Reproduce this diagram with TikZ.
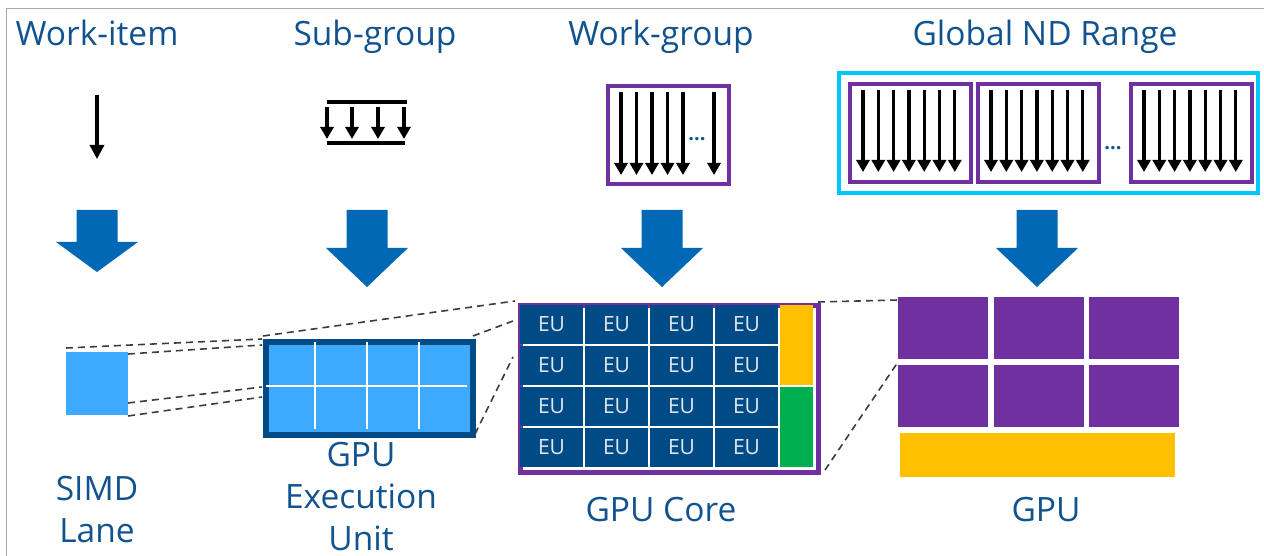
\documentclass[tikz,border=0pt]{standalone}
\usepackage{fontspec}
\setmainfont{Open Sans}
\usetikzlibrary{arrows.meta,positioning}
\definecolor{TitleBlue}{HTML}{11538F}
\definecolor{ArrowBlue}{HTML}{0068B5}
\definecolor{LaneBlue}{HTML}{3DAAFF}
\definecolor{EUBlue}{HTML}{004A86}
\definecolor{CoreBlue}{HTML}{004A86}
\definecolor{CellText}{HTML}{E4E8EE}
\definecolor{Violet}{HTML}{7030A0}
\definecolor{Cyan}{HTML}{00C7FD}
\definecolor{Gold}{HTML}{FFC000}
\definecolor{Leaf}{HTML}{00B050}
\definecolor{DashGray}{HTML}{3C3C3C}
\definecolor{Frame}{HTML}{A8A8A8}
\tikzset{
  heading/.style={text=TitleBlue, font=\fontsize{33.5}{42}\selectfont,
    inner sep=0pt, anchor=base, align=center},
  lane/.style={-{Triangle[length=12pt,width=13pt]}, line width=3.3pt},
  bar/.style={line width=4pt},
  groupbox/.style={draw=Violet, line width=4pt, minimum width=121pt,
    minimum height=98pt, inner sep=0pt, anchor=north west},
  zoomline/.style={draw=DashGray, line width=1.6pt, dash pattern=on 7pt off 5pt},
  eucell/.style={fill=CoreBlue, text=CellText, minimum width=63pt,
    minimum height=39pt, inner sep=0pt, font=\fontsize{21}{21}\selectfont},
  tile/.style={fill=Violet, minimum width=90pt, minimum height=62pt, inner sep=0pt},
  moredots/.style={text=TitleBlue, font=\fontsize{20}{20}\selectfont\bfseries,
    inner sep=0pt, anchor=base}
}
% block arrow: x, top, neck, tip
\newcommand\BlockArrow[4]{%
  \fill[ArrowBlue] (#1-20.5,#2) -- (#1+20.5,#2) -- (#1+20.5,#3) -- (#1+41,#3)
    -- (#1,#4) -- (#1-41,#3) -- (#1-20.5,#3) -- cycle;}

\begin{document}
\begin{tikzpicture}[x=1pt,y=-1pt]
  \useasboundingbox (0,0) rectangle (1264,556);
  \draw[Frame, line width=1.5pt] (6.5,556) -- (6.5,8.5) -- (1264,8.5);

  % headings
  \node[heading] (t-item) at (97,46) {Work-item};
  \node[heading] (t-sub) at (375,46) {Sub-group};
  \node[heading] (t-wg) at (661,46) {Work-group};
  \node[heading] (t-nd) at (1045,46) {Global ND Range};

  % work-item
  \coordinate (wi-top) at (97,95);
  \coordinate (wi-end) at (97,159);
  \draw[lane, -{Triangle[length=14pt,width=14pt]}] (wi-top) -- (wi-end);

  % sub-group
  \coordinate (sg-a) at (327,102);
  \coordinate (sg-b) at (407,102);
  \coordinate (sg-c) at (327,143);
  \coordinate (sg-d) at (405,143);
  \draw[bar] (sg-a) -- (sg-b);
  \draw[bar] (sg-c) -- (sg-d);
  \foreach \x in {327,352,378,404}
    \draw[lane] (\x,107) -- (\x,139);

  % work-group
  \node[groupbox] (wg) at (606,84) {};
  \foreach \i in {0,...,4}
    \draw[lane] (621+15.5*\i,92) -- (621+15.5*\i,175);
  \draw[lane] (714,92) -- (714,175);
  \node[moredots] (wg-dots) at (697,141) {...};

  % global ND range
  \node[draw=Cyan, line width=4pt, minimum width=419pt, minimum height=120pt,
    inner sep=0pt, anchor=north west] (nd) at (837,71) {};
  \foreach \bx [count=\k] in {848,976,1129} {
    \node[groupbox] (wg\k) at (\bx,82) {};
    \foreach \i in {0,...,6}
      \draw[lane] (\bx+15+15.3*\i,90) -- (\bx+15+15.3*\i,172);
  }
  \node[moredots] (nd-dots) at (1113,150) {...};

  % big arrows
  \BlockArrow{97}{210}{242}{272}
  \BlockArrow{367}{210}{248}{287}
  \BlockArrow{662}{210}{248}{287}
  \BlockArrow{1037}{210}{248}{287}

  % zoom lines
  \coordinate (s1) at (66,348);
  \coordinate (s2) at (128,354);
  \coordinate (s3) at (128,403);
  \coordinate (s4) at (128,416);
  \coordinate (e1) at (262,339);
  \coordinate (e2) at (262,345);
  \coordinate (e3) at (262,387);
  \coordinate (e4) at (262,397);
  \coordinate (c1) at (515,301);
  \coordinate (c2) at (513,321);
  \coordinate (c3) at (513,357);
  \coordinate (k1) at (818,302);
  \coordinate (k2) at (825,470);
  \coordinate (g1) at (898,300);
  \coordinate (g2) at (898,362);
  \draw[zoomline] (s1) -- (e1);
  \draw[zoomline] (s2) -- (e2);
  \draw[zoomline] (s3) -- (e3);
  \draw[zoomline] (s4) -- (e4);
  \draw[zoomline] (263,336) -- (c1);
  \draw[zoomline] (473,336) -- (c2);
  \draw[zoomline] (475,434) -- (c3);
  \draw[zoomline] (k1) -- (g1);
  \draw[zoomline] (k2) -- (g2);

  % SIMD lane and execution unit
  \node[fill=LaneBlue, minimum width=62pt, minimum height=63pt, inner sep=0pt,
    anchor=north west] (simd) at (66,352) {};
  \node[draw=EUBlue, fill=LaneBlue, line width=6pt, minimum width=207pt,
    minimum height=93pt, inner sep=0pt, anchor=north west] (eu) at (263,339) {};
  \foreach \x in {315,367,419}
    \draw[white, line width=2pt] (\x,342) -- (\x,429);
  \draw[white, line width=2pt] (266,386) -- (467,386);

  % GPU core
  \node[draw=Violet, fill=white, line width=5pt, minimum width=298pt,
    minimum height=167pt, inner sep=0pt, anchor=north west] (core) at (517.5,302.5) {};
  \foreach \r in {0,...,3}
    \foreach \c in {0,...,3}
      \node[eucell] (eu-\r-\c) at (551.5+65*\c,324.5+41*\r) {EU};
  \fill[Gold] (780,305) rectangle (813,385);
  \fill[Leaf] (780,387) rectangle (813,467);

  % GPU
  \foreach \x [count=\c] in {943,1039,1133.5}
    \foreach \y [count=\r] in {328,395.5}
      \node[tile] (gpu-\r-\c) at (\x,\y) {};
  \node[fill=Gold, minimum width=275pt, minimum height=44pt, inner sep=0pt] (l3) at (1037.5,455) {};

  % labels
  \node[heading] (l-simd) at (97,542) {SIMD\\Lane};
  \node[heading] (l-eu) at (361,550) {GPU\\Execution\\Unit};
  \node[heading] (l-core) at (661,521) {GPU Core};
  \node[heading] (l-gpu) at (1046,521) {GPU};
\end{tikzpicture}
\end{document}
